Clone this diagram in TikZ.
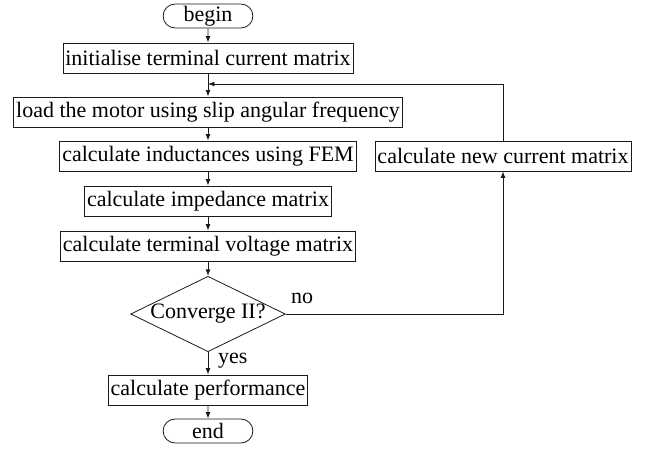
\documentclass[tikz,border=0pt]{standalone}
\usepackage{fontspec}
\setmainfont{Liberation Serif}
\usepackage{tikz}
\usetikzlibrary{positioning,arrows.meta,shapes.geometric,shapes.misc}
\definecolor{LineDark}{HTML}{1A1A1A}

\begin{document}
\begin{tikzpicture}[x=0.5pt,y=-0.5pt,
    every node/.style={font=\fontsize{11}{13}\selectfont, text=black},
    procbox/.style={draw=LineDark, thin, rectangle, minimum height=15pt, inner xsep=1.2pt, inner ysep=1pt},
    termbox/.style={draw=LineDark, thin, rounded rectangle, minimum width=45.5pt, minimum height=12pt, inner sep=0.3pt},
    testbox/.style={draw=LineDark, thin, diamond, aspect=2.05, minimum width=75pt, minimum height=36.5pt, inner sep=0pt},
    flow/.style={draw=LineDark, thin, -{Latex[length=3.2pt,width=2.4pt]}}]
        \useasboundingbox (0,0) rectangle (651,450);
        % main column
        \node[termbox] (begin) at (208,16) {begin};
        \node[procbox] (init) at (208,58) {initialise terminal current matrix};
        \coordinate (merge) at (208,84);
        \node[procbox] (load) at (208,112) {load the motor using slip angular frequency};
        \node[procbox] (induct) at (208,156) {calculate inductances using FEM};
        \node[procbox] (imped) at (208,201) {calculate impedance matrix};
        \node[procbox] (volt) at (208,246) {calculate terminal voltage matrix};
        \node[testbox] (conv) at (208,314) {Converge II?};
        \node[procbox] (perf) at (208,390) {calculate performance};
        \node[termbox] (end) at (208,431) {end};
        % loop back
        \node[procbox] (newcur) at (503,156) {calculate new current matrix};
        \node[anchor=west] (nolbl) at (284,298) {no};
        \node[anchor=west] (yeslbl) at (211,361) {yes};
        \draw[flow] (begin) -- (init);
        \draw[flow] (init) -- (load);
        \draw[flow] (load) -- (induct);
        \draw[flow] (induct) -- (imped);
        \draw[flow] (imped) -- (volt);
        \draw[flow] (volt) -- (conv);
        \draw[flow] (conv) -- (perf);
        \draw[flow] (perf) -- (end);
        \draw[flow] (conv.east) -| (newcur.south);
        \draw[flow] (newcur.north) |- (merge);
      \end{tikzpicture}
\end{document}
